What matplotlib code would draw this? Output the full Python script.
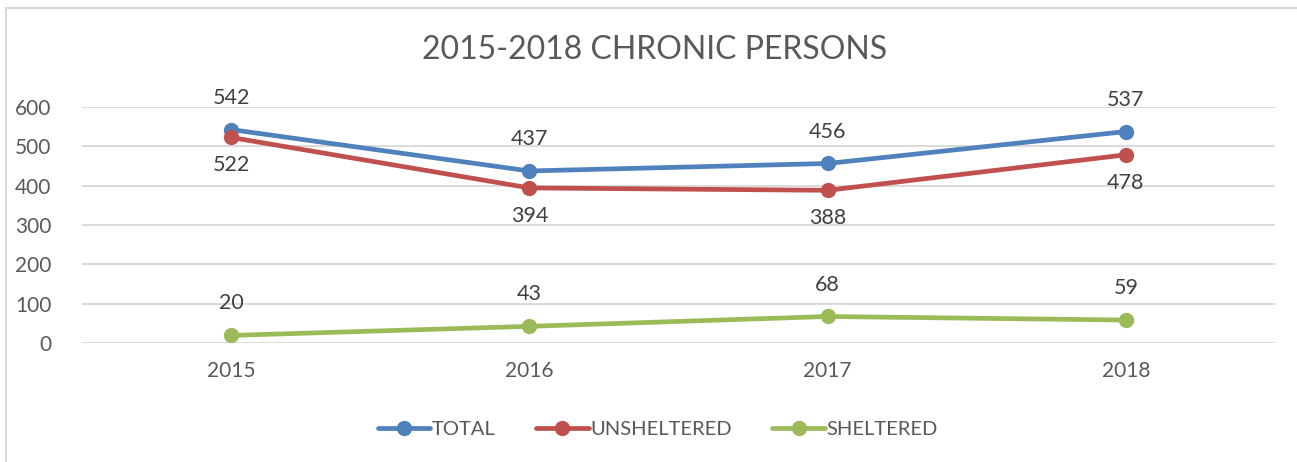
import matplotlib
matplotlib.use("Agg")
import matplotlib.pyplot as plt
from matplotlib.lines import Line2D

years = ["2015", "2016", "2017", "2018"]
total = [542, 437, 456, 537]
unsheltered = [522, 394, 388, 478]
sheltered = [20, 43, 68, 59]
series_names = ["TOTAL", "UNSHELTERED", "SHELTERED"]
colors = ["#4F81BD", "#C0504D", "#9BBB59"]
label_pos = ["above", "below", "above"]

plt.rcParams['font.family'] = ['Lato', 'DejaVu Sans']
txt = "#595959"

fig = plt.figure(figsize=(12.97, 4.62), dpi=100)
ax = fig.add_axes([82/1297, 1-343.3/462, (1275-82)/1297, (343.3-106.7)/462])

x = list(range(len(years)))
for vals, name, c, pos in zip([total, unsheltered, sheltered], series_names, colors, label_pos):
    ax.plot(x, vals, color=c, lw=3.4, marker='o', ms=10, label=name,
            solid_capstyle='round', zorder=3)
    for xi, v in zip(x, vals):
        dy = 23 if pos == "above" else -20
        ax.annotate(str(v), (xi, v), xytext=(0, dy), textcoords='offset points',
                    ha='center', va='center', fontsize=15.5, color='#404040')

ax.set_xlim(-0.5, 3.5)
ax.set_ylim(0, 600)
ax.set_yticks(range(0, 601, 100))
ax.set_xticks(x)
ax.set_xticklabels(years)
ax.grid(axis='y', color='#D9D9D9', lw=1.3)
ax.set_axisbelow(True)
for s in ax.spines.values():
    s.set_visible(False)
ax.tick_params(length=0, labelsize=15, colors=txt)
ax.tick_params(axis='y', pad=22)
ax.tick_params(axis='x', pad=13)

fig.text(655/1297, 1-50/462, "2015-2018 CHRONIC PERSONS", ha='center', va='center',
         fontsize=23, color=txt)

leg = fig.legend(loc='center', bbox_to_anchor=(658/1297, 1-429/462), ncol=3, frameon=False,
                 fontsize=14.5, labelcolor=txt, handlelength=2.6, handletextpad=0.1,
                 columnspacing=2.0)

# chart border
fig.add_artist(Line2D([6/1297, 6/1297], [0, 1-8/462], color='#D9D9D9', lw=1.5))
fig.add_artist(Line2D([6/1297, 1], [1-8/462, 1-8/462], color='#D9D9D9', lw=1.5))

fig.savefig("out.png", dpi=100)
